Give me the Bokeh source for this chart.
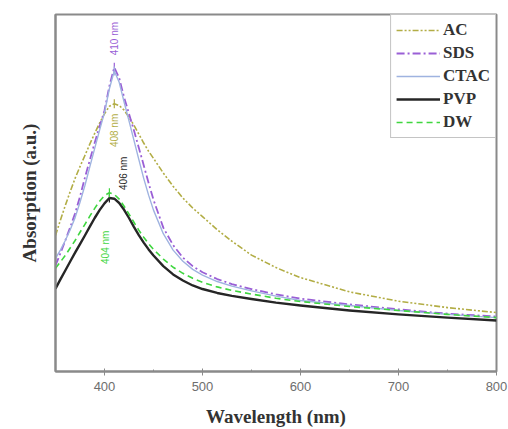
import math
from bokeh.plotting import figure
from bokeh.models import ColumnDataSource, Legend, LegendItem, FixedTicker, Range1d
from bokeh.core.properties import value
from bokeh.embed import file_html
from bokeh.resources import INLINE

wavelength = [350, 355, 360, 365, 370, 375, 380, 385, 390, 395, 400, 405, 410, 415, 420,
              425, 430, 435, 440, 445, 450, 460, 470, 480, 490, 500, 515, 530, 550, 575,
              600, 650, 700, 750, 800]

ac   = [0.381, 0.424, 0.465, 0.504, 0.541, 0.574, 0.605, 0.637, 0.667, 0.696, 0.722, 0.743,
        0.750, 0.745, 0.732, 0.712, 0.690, 0.665, 0.640, 0.617, 0.597, 0.556, 0.519, 0.486,
        0.458, 0.434, 0.397, 0.365, 0.326, 0.291, 0.263, 0.223, 0.197, 0.179, 0.165]
sds  = [0.297, 0.331, 0.367, 0.404, 0.443, 0.490, 0.543, 0.592, 0.641, 0.687, 0.731, 0.800,
        0.852, 0.822, 0.768, 0.722, 0.676, 0.627, 0.578, 0.528, 0.481, 0.403, 0.354, 0.319,
        0.295, 0.278, 0.259, 0.245, 0.231, 0.216, 0.204, 0.188, 0.174, 0.162, 0.154]
ctac = [0.317, 0.340, 0.367, 0.397, 0.431, 0.474, 0.521, 0.573, 0.625, 0.676, 0.725, 0.792,
        0.842, 0.810, 0.755, 0.702, 0.648, 0.594, 0.541, 0.494, 0.452, 0.386, 0.340, 0.309,
        0.286, 0.270, 0.252, 0.239, 0.226, 0.211, 0.199, 0.185, 0.171, 0.160, 0.151]
pvp  = [0.232, 0.258, 0.283, 0.308, 0.333, 0.357, 0.381, 0.406, 0.430, 0.452, 0.471, 0.486,
        0.484, 0.472, 0.453, 0.430, 0.405, 0.382, 0.361, 0.342, 0.325, 0.295, 0.272, 0.255,
        0.241, 0.231, 0.220, 0.212, 0.203, 0.193, 0.185, 0.171, 0.160, 0.151, 0.143]
dw   = [0.289, 0.307, 0.325, 0.346, 0.367, 0.390, 0.412, 0.435, 0.457, 0.477, 0.493, 0.501,
        0.496, 0.483, 0.463, 0.441, 0.418, 0.396, 0.376, 0.358, 0.342, 0.315, 0.292, 0.275,
        0.261, 0.250, 0.237, 0.227, 0.217, 0.205, 0.196, 0.182, 0.171, 0.160, 0.151]

series_names = ["AC", "SDS", "CTAC", "PVP", "DW"]
peak_labels = ["408 nm", "410 nm", "410 nm", "406 nm", "404 nm"]
x_ticks = [400, 500, 600, 700, 800]
x_minor = [450, 550, 650, 750]

colors = ["#b2ad45", "#9a5fd6", "#9fb3e0", "#262626", "#3fd63f"]
dashes = ["6 2 2 2 2 2", "8 3 2 3", "solid", "solid", "6 4"]
widths = [1.6, 1.8, 1.4, 2.4, 1.6]

p = figure(width=508, height=429, output_backend="svg", toolbar_location=None,
           x_range=Range1d(350, 800), y_range=Range1d(0, 1),
           min_border_left=55, min_border_right=12, min_border_top=14, min_border_bottom=58)

p.xgrid.visible = False
p.ygrid.visible = False
p.outline_line_color = "#8a8a8a"
p.outline_line_width = 2
p.background_fill_color = "white"
p.border_fill_color = "white"

data = [ac, sds, ctac, pvp, dw]
items = []
for name, ys, c, d, w in zip(series_names, data, colors, dashes, widths):
    src = ColumnDataSource(dict(x=wavelength, y=ys))
    r = p.line("x", "y", source=src, line_color=c, line_dash=d, line_width=w,
               line_join="round")
    items.append(LegendItem(label=name, renderers=[r]))

# peak markers and labels
for name, ys, c, lab in zip(series_names, data, colors, peak_labels):
    k = max(range(len(ys)), key=lambda j: ys[j])
    px, py = wavelength[k], ys[k]
    p.scatter([px], [py], marker="dash", angle=math.pi / 2, size=9, line_color=c, line_width=1.2)
    if name == "AC":
        kw = dict(text_align="right", x_offset=0, y_offset=10)
    elif name == "SDS":
        kw = dict(text_align="left", x_offset=0, y_offset=-12)
    elif name == "CTAC":
        continue
    elif name == "PVP":
        kw = dict(text_align="left", x_offset=14, y_offset=-8)
    else:
        kw = dict(text_align="right", x_offset=-4, y_offset=38)
    p.text([px], [py], text=[lab], angle=math.pi / 2, text_color=c,
           text_font=value("Liberation Sans"), text_font_size="10px",
           text_baseline="middle", **kw)

legend = Legend(items=items, location="top_right")
legend.label_text_font = "Liberation Serif"
legend.label_text_font_style = "bold"
legend.label_text_font_size = "17px"
legend.label_text_color = "#333333"
legend.glyph_width = 44
legend.glyph_height = 20
legend.label_height = 20
legend.spacing = 3
legend.padding = 5
legend.margin = 0
legend.label_standoff = 3
legend.border_line_color = "#8a8a8a"
legend.border_line_width = 1.5
legend.background_fill_alpha = 1.0
p.add_layout(legend)

xa = p.xaxis[0]
xa.ticker = FixedTicker(ticks=x_ticks, minor_ticks=x_minor)
xa.axis_label = "Wavelength (nm)"
xa.axis_label_text_font = "Liberation Serif"
xa.axis_label_text_font_style = "bold"
xa.axis_label_text_font_size = "19px"
xa.axis_label_text_color = "#333333"
xa.axis_label_standoff = 12
xa.major_label_text_font = "Liberation Sans"
xa.major_label_text_font_size = "13px"
xa.major_label_text_color = "#6e6e6e"
xa.major_label_standoff = 6
xa.axis_line_color = "#8a8a8a"
xa.axis_line_width = 2
xa.major_tick_line_color = "#8a8a8a"
xa.minor_tick_line_color = "#8a8a8a"
xa.major_tick_in = 3
xa.major_tick_out = 4
xa.minor_tick_in = 2
xa.minor_tick_out = 0

ya = p.yaxis[0]
ya.ticker = FixedTicker(ticks=[])
ya.axis_label = "Absorption (a.u.)"
ya.axis_label_text_font = "Liberation Serif"
ya.axis_label_text_font_style = "bold"
ya.axis_label_text_font_size = "19px"
ya.axis_label_text_color = "#333333"
ya.axis_label_standoff = 16
ya.axis_line_color = "#8a8a8a"
ya.axis_line_width = 2
ya.major_tick_line_color = None
ya.minor_tick_line_color = None

open("out.html", "w").write(file_html(p, INLINE))
